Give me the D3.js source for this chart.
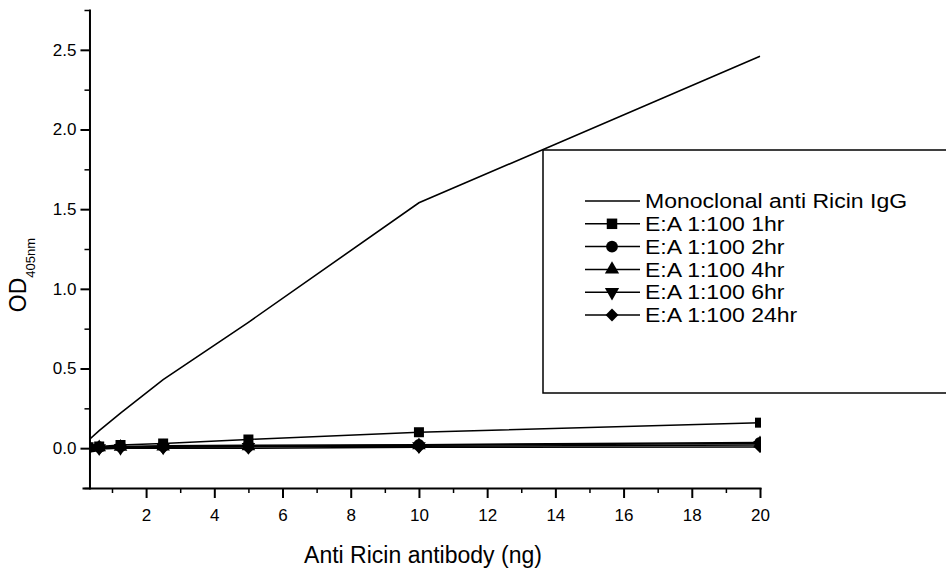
<!DOCTYPE html>
<meta charset="utf-8">
<style>
body { margin: 0; background: #fff; }
svg text { font-family: "Liberation Sans", Arial, sans-serif; fill: #000; }
.axis path, .axis line { stroke: #000; stroke-width: 2px; }
.minor line { stroke: #000; stroke-width: 1.5px; }
</style>
<svg width="946" height="573"></svg>
<script src="https://cdn.jsdelivr.net/npm/d3@7"></script>
<script>

// antibody amount (ng), two-fold dilution series
var doses = [0.3125, 0.625, 1.25, 2.5, 5, 10, 20];

// OD405nm readings
var igg   = [0.05, 0.11, 0.22, 0.43, 0.79, 1.54, 2.46];
var hr1   = [0.005, 0.01, 0.02, 0.03, 0.055, 0.10, 0.16];
var hr2   = [0.005, 0.008, 0.01, 0.015, 0.018, 0.022, 0.035];
var hr4   = [0.0, 0.005, 0.008, 0.01, 0.012, 0.018, 0.03];
var hr6   = [0.0, 0.0, 0.002, 0.005, 0.008, 0.012, 0.02];
var hr24  = [-0.005, -0.005, 0.0, 0.0, 0.0, 0.005, 0.008];

var seriesNames = ["E:A 1:100 1hr", "E:A 1:100 2hr", "E:A 1:100 4hr", "E:A 1:100 6hr", "E:A 1:100 24hr"];
var iggName = "Monoclonal anti Ricin IgG";

var xTicks = [2, 4, 6, 8, 10, 12, 14, 16, 18, 20];
var xMinor = [1, 3, 5, 7, 9, 11, 13, 15, 17, 19];
var yTicks = [0.0, 0.5, 1.0, 1.5, 2.0, 2.5];
var yMinor = [-0.25, 0.25, 0.75, 1.25, 1.75, 2.25, 2.75];

var svg = d3.select("svg");

var x = d3.scaleLinear().domain([0.15, 20]).range([83, 760]);
var y = d3.scaleLinear().domain([-0.25, 2.75]).range([488, 10]);
var yAxisX = x(0.34);

// symbol shapes: square, circle, up triangle, down triangle, diamond
var shapes = [
  {type: d3.symbolSquare, size: 100, rot: 0},
  {type: d3.symbolCircle, size: 100, rot: 0},
  {type: d3.symbolTriangle, size: 80, rot: 0},
  {type: d3.symbolTriangle, size: 80, rot: 180},
  {type: d3.symbolSquare, size: 75, rot: 45}
];

svg.append("defs").append("clipPath").attr("id", "plot")
  .append("rect")
    .attr("x", yAxisX)
    .attr("y", y(2.75))
    .attr("width", x(20) + 1 - yAxisX)
    .attr("height", y(-0.25) - y(2.75));

var line = d3.line()
    .x(function(d) { return x(d[0]); })
    .y(function(d) { return y(d[1]); });

var plot = svg.append("g").attr("clip-path", "url(#plot)");

var lowSeries = [hr1, hr2, hr4, hr6, hr24];

// lines for E:A series
lowSeries.forEach(function(vals, i) {
  var pts = doses.map(function(d, j) { return [d, vals[j]]; });
  plot.append("path")
      .datum(pts)
      .attr("fill", "none")
      .attr("stroke", "#000")
      .attr("stroke-width", 1.5)
      .attr("d", line);
});

// markers
lowSeries.forEach(function(vals, i) {
  var s = shapes[i];
  plot.append("g").selectAll("path")
    .data(doses.map(function(d, j) { return [d, vals[j]]; }))
    .enter().append("path")
      .attr("d", d3.symbol().type(s.type).size(s.size))
      .attr("fill", "#000")
      .attr("transform", function(d) {
        return "translate(" + x(d[0]) + "," + y(d[1]) + ") rotate(" + s.rot + ")";
      });
});

// monoclonal curve
plot.append("path")
    .datum(doses.map(function(d, j) { return [d, igg[j]]; }))
    .attr("fill", "none")
    .attr("stroke", "#000")
    .attr("stroke-width", 1.6)
    .attr("d", line);

// axes
var xAxis = svg.append("g")
    .attr("class", "axis")
    .attr("transform", "translate(0," + y(-0.25) + ")")
    .call(d3.axisBottom(x).tickValues(xTicks).tickSize(10).tickSizeOuter(0).tickPadding(11)
      .tickFormat(d3.format("d")));
xAxis.selectAll("text").attr("font-size", 17);

svg.append("g")
    .attr("class", "minor")
    .attr("transform", "translate(0," + y(-0.25) + ")")
    .call(d3.axisBottom(x).tickValues(xMinor).tickSize(5).tickFormat(""))
    .select(".domain").remove();

var yAxis = svg.append("g")
    .attr("class", "axis")
    .attr("transform", "translate(" + yAxisX + ",0)")
    .call(d3.axisLeft(y).tickValues(yTicks).tickSize(9).tickSizeOuter(0).tickPadding(4)
      .tickFormat(d3.format(".1f")));
yAxis.selectAll("text").attr("font-size", 17);

svg.append("g")
    .attr("class", "minor")
    .attr("transform", "translate(" + yAxisX + ",0)")
    .call(d3.axisLeft(y).tickValues(yMinor).tickSize(5).tickFormat(""))
    .select(".domain").remove();

svg.selectAll(".axis .domain").attr("stroke-linecap", "square");

// axis titles
svg.append("text")
    .attr("x", 423)
    .attr("y", 563)
    .attr("text-anchor", "middle")
    .attr("font-size", 23)
    .text("Anti Ricin antibody (ng)");

var yTitle = svg.append("text")
    .attr("transform", "translate(26,275) rotate(-90)")
    .attr("text-anchor", "middle")
    .attr("font-size", 23);
yTitle.append("tspan").text("OD");
yTitle.append("tspan").attr("font-size", 13).attr("dy", 9).text("405nm");

// legend
var legend = svg.append("g");
legend.append("rect")
    .attr("x", 543)
    .attr("y", 150)
    .attr("width", 420)
    .attr("height", 243)
    .attr("fill", "#fff")
    .attr("stroke", "#000")
    .attr("stroke-width", 1.5);

var legendRows = [iggName].concat(seriesNames);
legendRows.forEach(function(name, i) {
  var ry = 201 + i * 22.8;
  var row = legend.append("g").attr("transform", "translate(0," + ry + ")");
  row.append("line")
      .attr("x1", 585).attr("x2", 640)
      .attr("y1", 0).attr("y2", 0)
      .attr("stroke", "#000")
      .attr("stroke-width", 1.5);
  if (i > 0) {
    var s = shapes[i - 1];
    row.append("path")
        .attr("d", d3.symbol().type(s.type).size(s.size * 1.1))
        .attr("fill", "#000")
        .attr("transform", "translate(612,0) rotate(" + s.rot + ")");
  }
  var t = row.append("text")
      .attr("x", 645)
      .attr("dy", "0.36em")
      .attr("font-size", 20)
      .text(name);
  // glyphs in the original legend run a little wider than their height
  var w = t.node().getComputedTextLength();
  t.attr("textLength", w * 1.15).attr("lengthAdjust", "spacingAndGlyphs");
});

</script>
